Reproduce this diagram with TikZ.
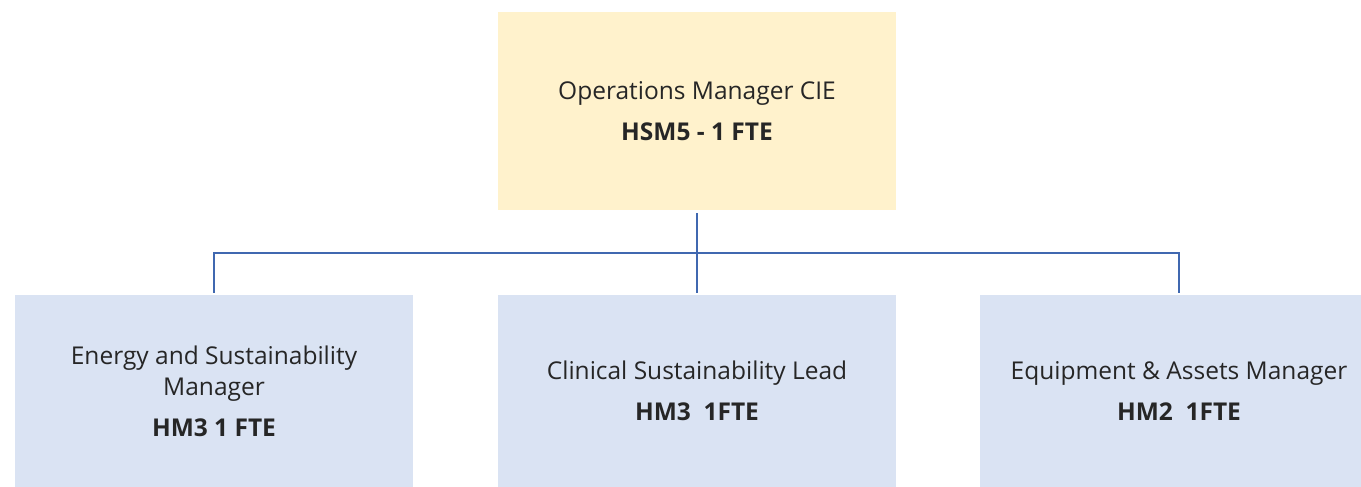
\documentclass[tikz,border=0pt]{standalone}
\usepackage{fontspec}
\setmainfont{Open Sans}
\usetikzlibrary{positioning}
\definecolor{headfill}{HTML}{FFF2CC}
\definecolor{rolefill}{HTML}{DAE3F3}
\definecolor{linkblue}{HTML}{4068B0}
\tikzset{
  postbox/.style={fill=#1,draw=none,minimum width=398pt,align=center,
    inner sep=0pt,font=\fontsize{24.5}{31}\selectfont,text=black!85},
  orgline/.style={draw=linkblue,line width=1.6pt},
}
\newcommand{\grade}[1]{\\[10pt]\textbf{#1}}
\begin{document}
\begin{tikzpicture}[x=1pt,y=-1pt]
\useasboundingbox (0,0) rectangle (1361,487);
% top post
\node[postbox=headfill,minimum height=198pt] (ops) at (697,111)
  {Operations Manager CIE\grade{HSM5 - 1 FTE}};
% reporting posts
\node[postbox=rolefill,minimum height=192pt] (energy) at (214,391)
  {Energy and Sustainability\\Manager\grade{HM3 1 FTE}};
\node[postbox=rolefill,minimum height=192pt] (clinical) at (697,391)
  {Clinical Sustainability Lead\grade{HM3\ \ 1FTE}};
\node[postbox=rolefill,minimum height=192pt] (assets) at (1179,391)
  {Equipment \& Assets Manager\grade{HM2\ \ 1FTE}};
\coordinate (bus) at (697,253);
% connectors
\draw[orgline,shorten <=3pt,shorten >=2pt] (ops.south) -- (clinical.north);
\draw[orgline,shorten <=2pt,shorten >=2pt] (energy.north) |- (bus) -| (assets.north);
\end{tikzpicture}
\end{document}
